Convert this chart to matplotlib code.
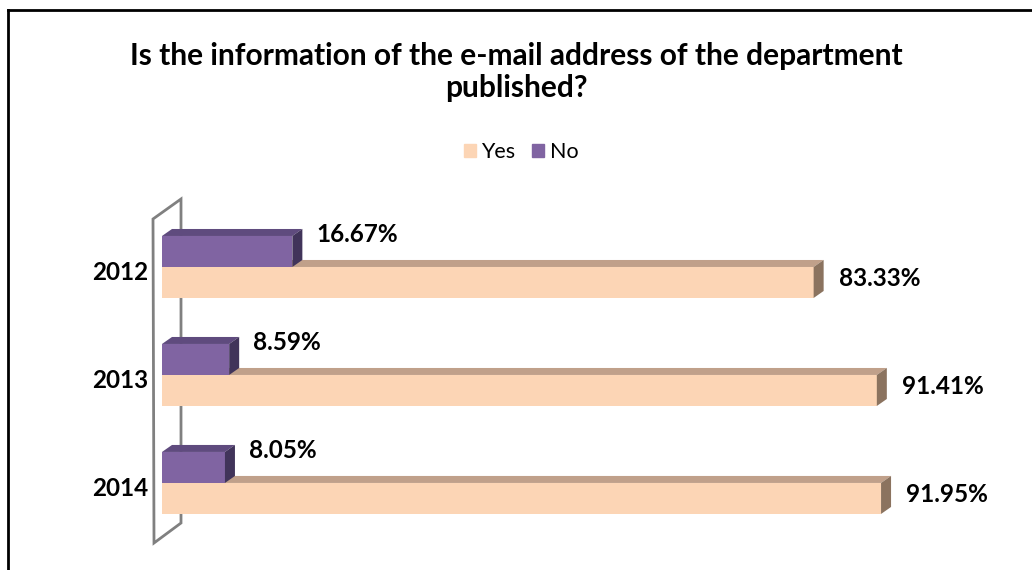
import matplotlib.pyplot as plt
from matplotlib.patches import Polygon, Patch
from matplotlib.lines import Line2D
import numpy as np

years = ['2012', '2013', '2014']
yes = [83.33, 91.41, 91.95]
no = [16.67, 8.59, 8.05]
title1 = 'Is the information of the e-mail address of the department'
title2 = 'published?'

# excel-ish 3d colours: front, top, side
yes_c = ('#fcd5b5', '#c0a08a', '#8b735f')
no_c = ('#8064a2', '#5f4b7e', '#41345a')

plt.rcParams['font.family'] = ['Lato', 'DejaVu Sans']

W, H = 1032, 570
fig = plt.figure(figsize=(W / 100, H / 100), dpi=100)

# outer frame (only left and top visible)
fig.add_artist(Line2D([8 / W, 8 / W], [0, 1 - 10 / H], color='black', lw=2))
fig.add_artist(Line2D([8 / W, 1], [1 - 10 / H, 1 - 10 / H], color='black', lw=2))

ax = fig.add_axes([162 / W, 1 - 543 / H, 782 / W, 323 / H])
ax.set_xlim(0, 100)
ax.set_ylim(2.556, -0.435)
ax.axis('off')

pos = np.arange(len(years))
h = 31 / 108
dx = 10 / 7.82
dy = 7 / 108


def bar3d(ypos, vals, cols, z):
    front, top, side = cols
    bars = ax.barh(ypos, vals, height=h, color=front, zorder=z)
    for y, v in zip(ypos, vals):
        y0 = y - h / 2
        ax.add_patch(Polygon([(0, y0), (dx, y0 - dy), (v + dx, y0 - dy), (v, y0)],
                             closed=True, color=top, zorder=z, lw=0))
        ax.add_patch(Polygon([(v, y0), (v + dx, y0 - dy), (v + dx, y0 + h - dy), (v, y0 + h)],
                             closed=True, color=side, zorder=z, lw=0))
    return bars


bar3d(pos + h / 2, yes, yes_c, 2)
bar3d(pos - h / 2, no, no_c, 3)

for y, v in zip(pos + h / 2, yes):
    ax.annotate('%.2f%%' % v, (v + dx, y), xytext=(11, 3), textcoords='offset points',
                ha='left', va='center', fontsize=17.5, fontweight='bold', annotation_clip=False)
for y, v in zip(pos - h / 2, no):
    ax.annotate('%.2f%%' % v, (v + dx, y), xytext=(10, 12), textcoords='offset points',
                ha='left', va='center', fontsize=17.5, fontweight='bold', annotation_clip=False)

for y, lab in zip(pos, years):
    ax.annotate(lab, (0, y), xytext=(-10, -4), textcoords='offset points',
                ha='right', va='center', fontsize=17.5, fontweight='bold', annotation_clip=False)

# side wall, sits behind the bars
wall = Polygon([(153 / W, 1 - 219 / H), (181 / W, 1 - 199 / H), (181 / W, 1 - 523 / H),
                (154 / W, 1 - 543 / H)], closed=True, fill=False, edgecolor='#808080', lw=2,
               transform=fig.transFigure, zorder=1, clip_on=False)
ax.add_artist(wall)

fig.text(0.5, 1 - 56 / H, title1, ha='center', va='center', fontsize=21.5, fontweight='bold')
fig.text(0.5, 1 - 88 / H, title2, ha='center', va='center', fontsize=21.5, fontweight='bold')

handles = [Patch(color=yes_c[0]), Patch(color=no_c[0])]
fig.legend(handles, ['Yes', 'No'], loc='center', bbox_to_anchor=(521 / W, 1 - 152 / H),
           ncol=2, frameon=False, fontsize=15.5, handlelength=0.55, handleheight=0.55,
           handletextpad=0.25, columnspacing=0.8)

fig.savefig('out.png', dpi=100)
